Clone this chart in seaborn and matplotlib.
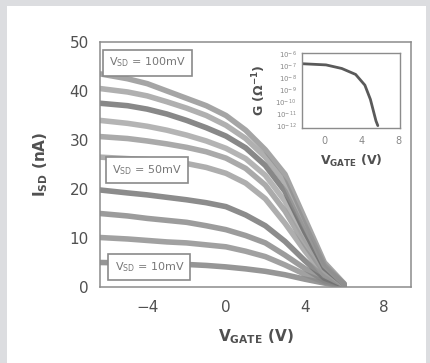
import numpy as np
import pandas as pd
import seaborn as sns
import matplotlib.pyplot as plt
from matplotlib.patches import Rectangle

# gate sweep points (V)
v_gate = [-6.4, -5, -4, -3, -2, -1, 0, 1, 2, 3, 4, 5, 6]

# I_SD (nA), one list per V_SD
i_10mV = [5.0, 4.9, 4.8, 4.7, 4.6, 4.4, 4.1, 3.7, 3.2, 2.5, 1.6, 0.8, 0.2]
i_20mV = [10.1, 9.8, 9.5, 9.2, 9.0, 8.6, 8.2, 7.3, 6.2, 4.5, 2.6, 1.0, 0.2]
i_30mV = [15.0, 14.5, 14.0, 13.6, 13.2, 12.5, 11.7, 10.5, 9.0, 6.5, 3.8, 1.3, 0.3]
i_40mV = [19.8, 19.2, 18.8, 18.3, 17.8, 17.2, 16.4, 14.7, 12.5, 9.3, 5.4, 1.8, 0.3]
i_50mV = [26.5, 26.2, 26.0, 25.6, 25.2, 24.4, 23.2, 21.2, 18.0, 13.0, 7.4, 2.4, 0.4]
i_60mV = [30.7, 30.3, 29.8, 29.2, 28.5, 27.6, 26.3, 24.2, 20.8, 15.5, 8.8, 2.9, 0.5]
i_70mV = [34.0, 33.4, 32.8, 32.0, 31.0, 29.8, 28.3, 26.2, 22.8, 17.5, 10.0, 3.4, 0.5]
i_80mV = [37.5, 37.0, 36.3, 35.3, 34.0, 32.5, 30.8, 28.4, 24.8, 19.5, 11.3, 3.9, 0.6]
i_90mV = [40.5, 39.8, 39.0, 37.8, 36.5, 35.0, 33.0, 30.3, 26.5, 21.3, 12.7, 4.4, 0.6]
i_100mV = [43.5, 42.5, 41.5, 40.0, 38.5, 37.0, 35.0, 32.0, 28.0, 23.0, 14.0, 5.0, 0.7]

vsd_labels = ['10', '20', '30', '40', '50', '60', '70', '80', '90', '100']
curves = [i_10mV, i_20mV, i_30mV, i_40mV, i_50mV, i_60mV, i_70mV, i_80mV, i_90mV, i_100mV]

# inset: conductance vs gate (log)
g_vgate = [-2.4, 0.2, 1.9, 3.4, 4.4, 5.0, 5.6, 5.8]
g_val = [10**-6.8, 10**-6.9, 10**-7.2, 10**-7.7, 10**-8.6, 10**-9.8, 10**-11.6, 10**-12.0]
g_ticks = [1e-6, 1e-7, 1e-8, 1e-9, 1e-10, 1e-11, 1e-12]
g_ticklabels = ['10$^{-6}$', '10$^{-7}$', '10$^{-8}$', '10$^{-9}$',
                '10$^{-10}$', '10$^{-11}$', '10$^{-12}$']

rows = []
for lab, ys in zip(vsd_labels, curves):
    for x, y in zip(v_gate, ys):
        rows.append((lab, x, y))
df = pd.DataFrame(rows, columns=['Vsd', 'Vgate', 'Isd'])
df_g = pd.DataFrame({'Vgate': g_vgate, 'G': g_val})

sns.set_style('white')
plt.rcParams['font.family'] = ['DejaVu Sans']
plt.rcParams['mathtext.default'] = 'regular'

grey_txt = '#505050'
spine_c = '#8c8c8c'

fig = plt.figure(figsize=(4.31, 3.63), dpi=100, facecolor='#dcdde0')
fig.patches.append(Rectangle((7 / 431, 0), 419 / 431, 357 / 363, transform=fig.transFigure,
                             facecolor='white', edgecolor='none', zorder=-10))

ax = fig.add_axes([100 / 431, 1 - 287 / 363, 311 / 431, 245 / 363])
grays = ['#7c7c7c', '#8a8a8a', '#848484', '#6f6f6f', '#9a9a9a',
         '#959595', '#a2a2a2', '#6a6a6a', '#9c9c9c', '#8f8f8f']
sns.lineplot(data=df, x='Vgate', y='Isd', hue='Vsd', palette=grays, lw=4, alpha=0.8,
             legend=False, ax=ax)
ax.set_xlim(-6.4, 9.4)
ax.set_ylim(0, 50)
ax.set_xticks([-4, 0, 4, 8])
ax.set_xticklabels(['\u22124', '0', '4', '8'])
ax.set_yticks([0, 10, 20, 30, 40, 50])
ax.tick_params(direction='out', length=4, width=1, color=spine_c, labelsize=11,
               labelcolor=grey_txt)
ax.tick_params(axis='x', pad=5)
ax.tick_params(axis='y', pad=4)
for s in ax.spines.values():
    s.set_color(spine_c)
    s.set_linewidth(1.1)
ax.set_xlabel('V$_{GATE}$ (V)', fontsize=11, fontweight='bold', color=grey_txt, labelpad=9)
ax.set_ylabel('I$_{SD}$ (nA)', fontsize=11, fontweight='bold', color=grey_txt, labelpad=14)

box = dict(boxstyle='square,pad=0.55', facecolor='white', edgecolor='#8a8a8a', linewidth=1.2)
for txt, xx, yy in [('V$_{SD}$ = 100mV', 0.153, 0.916),
                    ('V$_{SD}$ = 50mV', 0.151, 0.478),
                    ('V$_{SD}$ = 10mV', 0.159, 0.080)]:
    ax.text(xx, yy, txt, transform=ax.transAxes, ha='center', va='center', fontsize=8,
            color='#777777', bbox=box, zorder=5)

# inset
axi = fig.add_axes([302 / 431, 1 - 128 / 363, 98 / 431, 75 / 363])
sns.lineplot(data=df_g, x='Vgate', y='G', color='#5a5a5a', lw=2, ax=axi)
axi.set_yscale('log')
axi.set_xlim(-2.4, 8.2)
axi.set_ylim(10**-12.2, 10**-5.9)
axi.set_xticks([0, 4, 8])
axi.set_yticks(g_ticks)
axi.set_yticklabels(g_ticklabels)
axi.minorticks_off()
axi.tick_params(direction='out', length=3, width=1, color=spine_c, labelsize=5,
                labelcolor='#888888', pad=1)
axi.tick_params(axis='x', labelsize=7, pad=3)
for s in axi.spines.values():
    s.set_color(spine_c)
    s.set_linewidth(1)
axi.set_xlabel('V$_{GATE}$ (V)', fontsize=9, fontweight='bold', color=grey_txt, labelpad=5)
axi.set_ylabel('G ($\\Omega^{-1}$)', fontsize=9, fontweight='bold', color=grey_txt, labelpad=5)

fig.savefig('out.png', dpi=100, facecolor=fig.get_facecolor())
